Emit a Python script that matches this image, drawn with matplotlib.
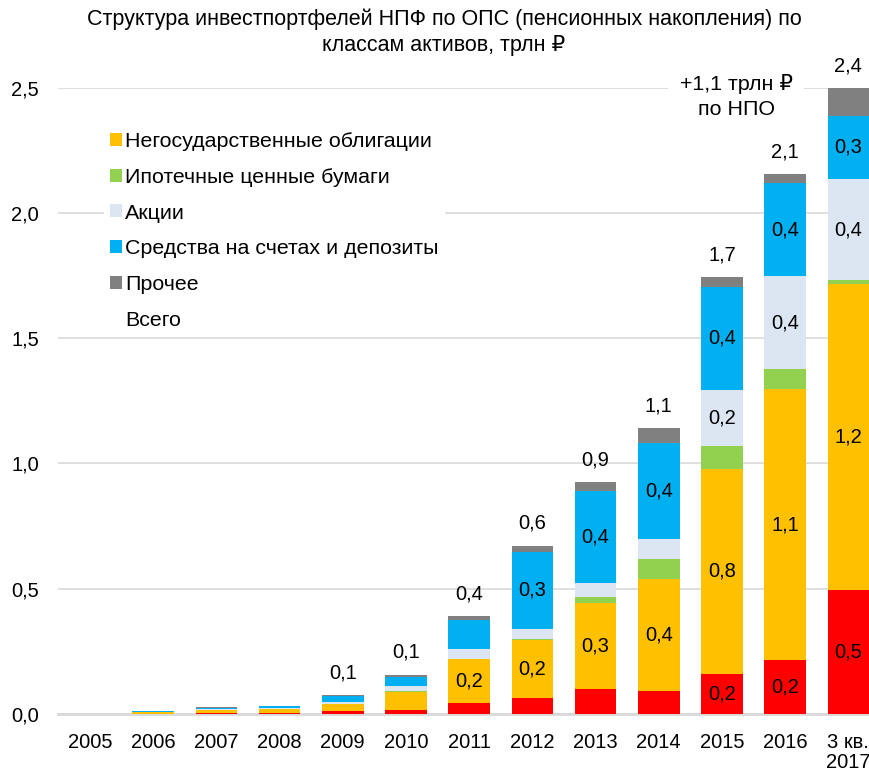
import numpy as np
import matplotlib
matplotlib.use("Agg")
import matplotlib.pyplot as plt
from matplotlib.patches import Patch

plt.rcParams['font.family'] = ['Liberation Sans', 'DejaVu Sans']

# ---- data (трлн руб.) ----
categories = ['2005', '2006', '2007', '2008', '2009', '2010', '2011', '2012',
              '2013', '2014', '2015', '2016', '3 кв.\n2017']
gov_bonds = [0.0, 0.001, 0.003, 0.005, 0.012, 0.016, 0.043, 0.065, 0.101, 0.091, 0.160, 0.215, 0.495]
corp_bonds = [0.0005, 0.006, 0.012, 0.013, 0.028, 0.073, 0.176, 0.230, 0.341, 0.447, 0.818, 1.080, 1.220]
mortgage = [0.0, 0.0, 0.0, 0.0, 0.001, 0.001, 0.002, 0.004, 0.024, 0.081, 0.092, 0.081, 0.017]
stocks = [0.0, 0.001, 0.004, 0.004, 0.007, 0.020, 0.037, 0.040, 0.058, 0.080, 0.223, 0.372, 0.402]
deposits = [0.0, 0.002, 0.006, 0.008, 0.024, 0.039, 0.117, 0.309, 0.367, 0.384, 0.412, 0.369, 0.254]
other = [0.0, 0.0005, 0.001, 0.003, 0.004, 0.008, 0.016, 0.024, 0.035, 0.057, 0.0375, 0.036, 0.109]
totals = [None, None, None, None, 0.1, 0.1, 0.4, 0.6, 0.9, 1.1, 1.7, 2.1, 2.4]

series = [
    (None, gov_bonds, '#FF0000'),
    ('Негосударственные облигации', corp_bonds, '#FFC000'),
    ('Ипотечные ценные бумаги', mortgage, '#92D050'),
    ('Акции', stocks, '#DCE6F2'),
    ('Средства на счетах и депозиты', deposits, '#00B0F0'),
    ('Прочее', other, '#808080'),
]

W, H = 869, 772
fig = plt.figure(figsize=(W / 100, H / 100), dpi=100)
ax_left, ax_bottom, ax_top = 58.4, 714, 87.5
ax = fig.add_axes([ax_left / W, (H - ax_bottom) / H, (W - ax_left) / W, (ax_bottom - ax_top) / H])

x = np.arange(len(categories))
bottom = np.zeros(len(categories))
fs = 14.5
for name, vals, col in series:
    vals = np.array(vals, dtype=float)
    ax.bar(x, vals, width=0.66, bottom=bottom, color=col, zorder=3, linewidth=0)
    for i, v in enumerate(vals):
        if v >= 0.15:
            ax.text(x[i], bottom[i] + v / 2, f"{v:.1f}".replace('.', ','),
                    ha='center', va='center', fontsize=fs, zorder=4)
    bottom += vals

for i, t in enumerate(totals):
    if t is not None:
        ax.annotate(f"{t:.1f}".replace('.', ','), (x[i], bottom[i]), xytext=(0, 16),
                    textcoords='offset points', ha='center', va='center', fontsize=fs,
                    annotation_clip=False)

ax.set_xlim(-0.5, (W - 90) / 63.2)
ax.set_ylim(0, 2.5)
yt = [0, 0.5, 1.0, 1.5, 2.0, 2.5]
ax.set_yticks(yt)
ax.set_yticklabels([f"{v:.1f}".replace('.', ',') for v in yt])
ax.set_xticks(x)
ax.set_xticklabels(categories)
ax.tick_params(axis='both', length=0, labelsize=fs)
ax.tick_params(axis='y', pad=14)
ax.tick_params(axis='x', pad=13.5)
for lbl in ax.get_xticklabels():
    lbl.set_linespacing(1.1)
ax.yaxis.grid(True, color='#D9D9D9', linewidth=1.2, zorder=0)
ax.set_axisbelow(True)
for s in ['top', 'right', 'left']:
    ax.spines[s].set_visible(False)
ax.spines['bottom'].set_color('#D9D9D9')
ax.spines['bottom'].set_linewidth(2)

handles = [Patch(facecolor=c, edgecolor='none') for n, v, c in series if n]
labels = [n for n, v, c in series if n]
handles.append(Patch(facecolor='none', edgecolor='none'))
labels.append('Всего')
leg = fig.legend(handles, labels, loc='upper left', bbox_to_anchor=(103.6 / W, 1 - 125.3 / H),
                 fontsize=15.4, frameon=True, facecolor='white', edgecolor='none', framealpha=1,
                 handlelength=0.56, handleheight=0.56, handletextpad=0.14, labelspacing=0.79,
                 borderpad=0.3, borderaxespad=0, fancybox=False)

fig.text(736 / W, 1 - 96.5 / H, '+1,1 трлн ₽\nпо НПО', ha='center', va='center', fontsize=15.4,
         linespacing=1.4, bbox=dict(facecolor='white', edgecolor='none', pad=8))

fig.text(444 / W, 1 - 32.5 / H,
         'Структура инвестпортфелей НПФ по ОПС (пенсионных накопления) по\nклассам активов, трлн ₽',
         ha='center', va='center', fontsize=15.5, linespacing=1.34)

fig.savefig('out.png', dpi=100)
